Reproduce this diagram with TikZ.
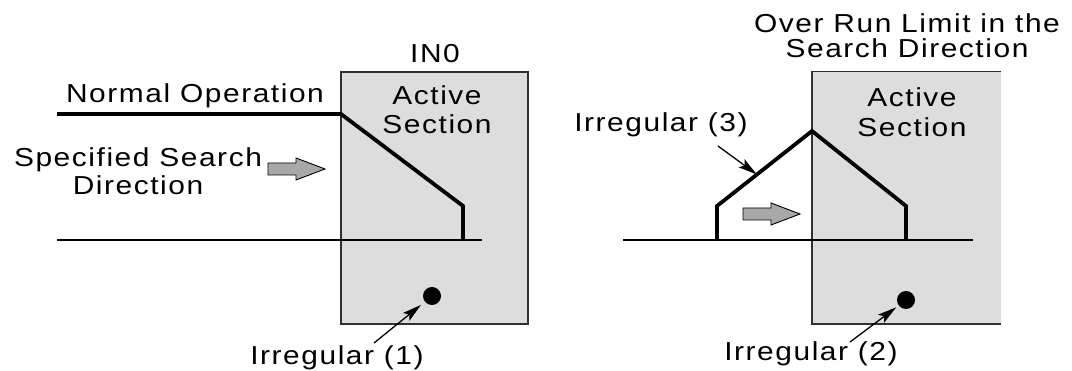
\documentclass[tikz,border=0pt]{standalone}
\usepackage{fontspec}
\setmainfont{Liberation Sans}[FakeStretch=1.15,LetterSpace=6]
\usetikzlibrary{arrows.meta,calc}
\definecolor{boxgray}{HTML}{DDDDDD}
\definecolor{arrgray}{HTML}{A8A8A8}
\definecolor{edgecol}{HTML}{303030}
\begin{document}
\begin{tikzpicture}[x=1pt,y=-1pt,
  lbl/.style={inner sep=0pt, align=center, font=\fontsize{26}{29}\selectfont},
  sectionbox/.style={fill=boxgray, inner sep=0pt, minimum height=252pt},
  boxedge/.style={draw=edgecol, line width=1.4pt},
  profile/.style={line width=3.8pt, line join=miter},
  groundline/.style={line width=1.3pt},
  dotmark/.style={circle, fill=black, inner sep=0pt, minimum size=18pt},
  pointer/.style={line width=1.3pt, -{Stealth[length=19pt,width=10pt,inset=4pt]}},
  grayarr/.pic={\draw[fill=arrgray, draw=black, line width=0.9pt]
     (0,-6) -- (28,-6) -- (28,-11) -- (57,0) -- (28,11) -- (28,6) -- (0,6) -- cycle;}
]
\useasboundingbox (0,0) rectangle (1072,371);

% ---------- left picture ----------
\node[sectionbox, minimum width=187pt, boxedge] (box1) at (434.5,198) {};
\node[lbl, anchor=base] (in0) at (435,63) {IN0};
\node[lbl, font=\fontsize{26}{29}\selectfont] (act1) at (437,109.5) {Active\\Section};
\node[lbl, anchor=base] (norm) at (195,103) {Normal Operation};
\node[lbl, font=\fontsize{26}{28.3}\selectfont] (spec) at (138,171.4) {Specified Search\\Direction};
\pic at (268,169) {grayarr};

\coordinate (n0) at (57,114);
\coordinate (n1) at (341,114);
\coordinate (n2) at (463,206);
\coordinate (n3) at (463,240);
\draw[profile] (n0) -- (n1) -- (n2) -- (n3);
\coordinate (g1a) at (57,240);
\coordinate (g1b) at (482,240);
\draw[groundline] (g1a) -- (g1b);

\node[dotmark] (d1) at (432,296) {};
\node[lbl, anchor=base] (irr1) at (337,365) {Irregular (1)};
\coordinate (s1) at (374,343);
\draw[pointer, shorten >=5pt] (s1) -- (d1);

% ---------- right picture ----------
\node[sectionbox, minimum width=189pt] (box2) at (906.5,198) {};
\draw[boxedge] (box2.north east) -- (box2.north west) -- (box2.south west) -- (box2.south east);
\node[lbl, font=\fontsize{26}{25}\selectfont] (ovr) at (907,36) {Over Run Limit in the\\Search Direction};
\node[lbl, font=\fontsize{26}{30}\selectfont] (act2) at (912,112.4) {Active\\Section};
\node[lbl, anchor=base] (irr3) at (661,132) {Irregular (3)};
\pic at (743,214) {grayarr};

\coordinate (k0) at (717,240);
\coordinate (k1) at (717,206);
\coordinate (apex) at (812,131);
\coordinate (k2) at (906,206);
\coordinate (k3) at (906,240);
\draw[profile] (k0) -- (k1) -- (apex) -- (k2) -- (k3);
\coordinate (g2a) at (623,240);
\coordinate (g2b) at (973,240);
\draw[groundline] (g2a) -- (g2b);

\coordinate (hit3) at ($(k1)!0.42!(apex)$);
\coordinate (s3) at (718,146);
\draw[pointer] (s3) -- (hit3);

\node[dotmark] (d2) at (906,300) {};
\node[lbl, anchor=base] (irr2) at (811,361) {Irregular (2)};
\coordinate (s2) at (850,342);
\draw[pointer, shorten >=3pt] (s2) -- (d2);
\end{tikzpicture}
\end{document}
